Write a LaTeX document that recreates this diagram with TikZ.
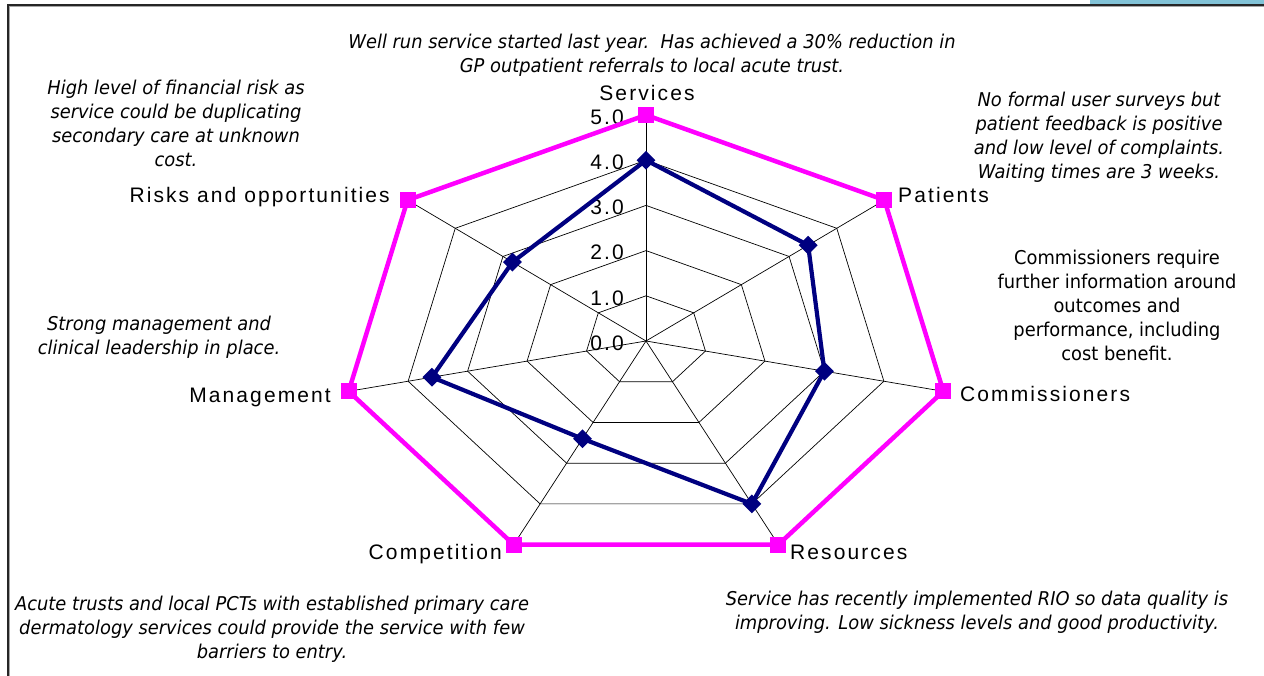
\documentclass[tikz,border=0pt]{standalone}
\usepackage{fontspec}
\setmainfont{Liberation Sans}
\newfontfamily\labfont[LetterSpace=10]{Liberation Sans}
\newfontfamily\notefont[FakeStretch=0.94]{DejaVu Sans}
\usetikzlibrary{shapes.geometric}
\definecolor{pinkc}{RGB}{255,0,255}
\definecolor{navyc}{RGB}{0,0,128}
\definecolor{stripc}{RGB}{130,195,215}
\begin{document}
\begin{tikzpicture}[x=1pt,y=-1pt,
  axlab/.style={font=\labfont\fontsize{21}{25}\selectfont, inner sep=0pt},
  ticklab/.style={font=\labfont\fontsize{21}{25}\selectfont, anchor=east, inner sep=0pt},
  note/.style={font=\notefont\itshape\fontsize{19}{24}\selectfont, align=center, inner sep=0pt},
  noteup/.style={font=\notefont\fontsize{19}{24}\selectfont, align=center, inner sep=0pt},
  gridline/.style={black, line width=0.7pt},
  outerline/.style={pinkc, line width=4.5pt, line join=miter},
  seriesline/.style={navyc, line width=4.2pt, line join=round},
  sq/.style={rectangle, fill=pinkc, minimum size=16pt, inner sep=0pt, draw=none},
  dia/.style={diamond, fill=navyc, minimum size=19pt, inner sep=0pt, draw=none}]
\useasboundingbox (0,0) rectangle (1264,675);
\fill[white] (0,0) rectangle (1264,675);
% frame
\fill[stripc] (1090,0) rectangle (1264,3.5);
\draw[black!35, line width=1pt] (9.5,680) -- (9.5,6.5) -- (1270,6.5);
\draw[black!85, line width=1.4pt] (8,680) -- (8,5) -- (1270,5);
% chart
\coordinate (C) at (646,341);
\begin{scope}[shift={(C)}, x=61pt, y=45.2pt]
  \foreach \r in {1,...,5}
    \draw[gridline] (90:\r) \foreach \i in {1,...,6} { -- ({90-\i*360/7}:\r) } -- cycle;
  \foreach \i in {0,...,6}
    \draw[gridline] (0,0) -- ({90-\i*360/7}:5);
  \foreach \n/\i in {S/0,P/1,Co/2,R/3,Cp/4,M/5,Ri/6}
    \coordinate (o\n) at ({90-\i*360/7}:5);
  \foreach \n/\i/\v in {S/0/4.0,P/1/3.4,Co/2/3.0,R/3/4.0,Cp/4/2.4,M/5/3.6,Ri/6/2.8}
    \coordinate (d\n) at ({90-\i*360/7}:\v);
\end{scope}
% tick labels
\foreach \v in {0,...,5}
  \node[ticklab] (t\v) at (624,{343-\v*45.2}) {\v.0};
% outer series
\draw[outerline] (oS) -- (oP) -- (oCo) -- (oR) -- (oCp) -- (oM) -- (oRi) -- cycle;
\foreach \n in {S,P,Co,R,Cp,M,Ri}
  \node[sq] (mo\n) at (o\n) {};
% data series
\draw[seriesline] (dS) -- (dP) -- (dCo) -- (dR) -- (dCp) -- (dM) -- (dRi) -- cycle;
\foreach \n in {S,P,Co,R,Cp,M,Ri}
  \node[dia] (md\n) at (d\n) {};
% axis labels
\node[axlab, anchor=base] (lS) at (647,100) {Services};
\node[axlab, anchor=base west] (lP) at (898,202) {Patients};
\node[axlab, anchor=base west] (lCo) at (960,401) {Commissioners};
\node[axlab, anchor=base west] (lR) at (790,559) {Resources};
\node[axlab, anchor=base east] (lCp) at (502,559) {Competition};
\node[axlab, anchor=base east] (lM) at (331,402) {Management};
\node[axlab, anchor=base east] (lRi) at (390,202) {Risks and opportunities};
% notes
\node[note] (nS) at (652,55) {Well run service started last year.\ \ Has achieved a 30\% reduction in\\GP outpatient referrals to local acute trust.};
\node[note] (nRi) at (176,123) {High level of financial risk as\\service could be duplicating\\secondary care at unknown\\cost.};
\node[note] (nP) at (1099,137) {No formal user surveys but\\patient feedback is positive\\and low level of complaints.\\Waiting times are 3 weeks.};
\node[noteup] (nCo) at (1117,305) {Commissioners require\\further information around\\outcomes and\\performance, including\\cost benefit.};
\node[note] (nM) at (159,337) {Strong management and\\clinical leadership in place.};
\node[note] (nCp) at (272,629) {Acute trusts and local PCTs with established primary care\\dermatology services could provide the service with few\\barriers to entry.};
\node[note] (nR) at (977,612) {Service has recently implemented RIO so data quality is\\improving. Low sickness levels and good productivity.};
\end{tikzpicture}
\end{document}
